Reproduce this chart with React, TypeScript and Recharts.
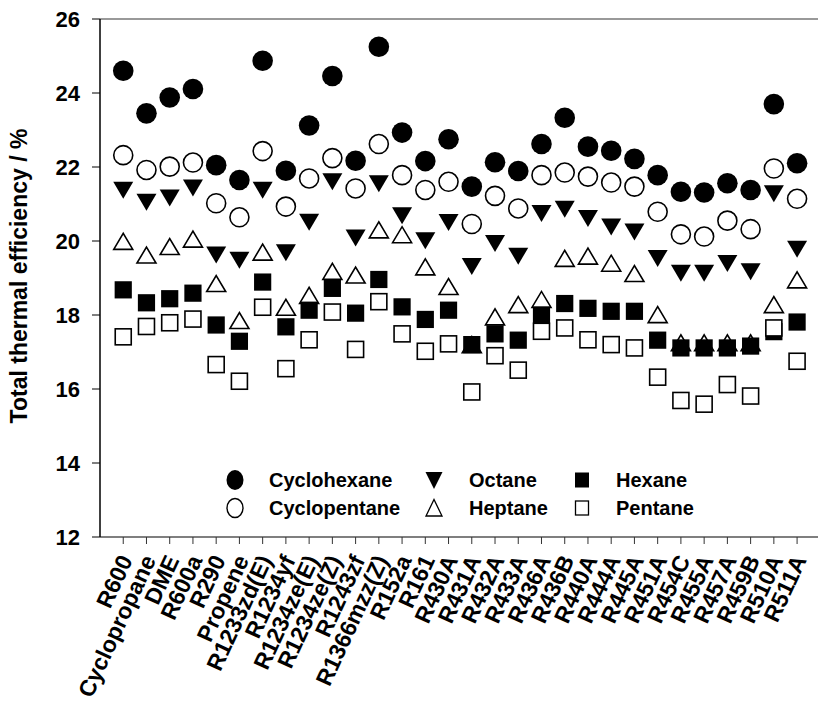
import React from "react";
import { ScatterChart, Scatter, XAxis, YAxis, ReferenceLine } from "recharts";

const categories = [
  "R600", "Cyclopropane", "DME", "R600a", "R290", "Propene", "R1233zd(E)", "R1234yf",
  "R1234ze(E)", "R1234ze(Z)", "R1243zf", "R1366mzz(Z)", "R152a", "R161", "R430A", "R431A",
  "R432A", "R433A", "R436A", "R436B", "R440A", "R444A", "R445A", "R451A", "R454C", "R455A",
  "R457A", "R459B", "R510A", "R511A",
];

const cyclohexane = [24.6, 23.45, 23.88, 24.11, 22.05, 21.65, 24.87, 21.9, 23.12, 24.46, 22.17, 25.25, 22.93, 22.16, 22.75, 21.47, 22.13, 21.89, 22.62, 23.33, 22.55, 22.44, 22.22, 21.78, 21.33, 21.31, 21.56, 21.38, 23.7, 22.1];
const cyclopentane = [22.32, 21.92, 22.01, 22.12, 21.02, 20.64, 22.43, 20.93, 21.69, 22.24, 21.42, 22.62, 21.78, 21.38, 21.6, 20.46, 21.22, 20.88, 21.78, 21.85, 21.74, 21.58, 21.47, 20.79, 20.18, 20.12, 20.55, 20.32, 21.96, 21.14];
const octane = [21.37, 21.05, 21.16, 21.43, 19.62, 19.48, 21.37, 19.68, 20.51, 21.6, 20.08, 21.55, 20.68, 20.01, 20.5, 19.31, 19.93, 19.59, 20.74, 20.86, 20.61, 20.38, 20.24, 19.53, 19.13, 19.13, 19.39, 19.17, 21.28, 19.78];
const heptane = [19.99, 19.62, 19.85, 20.05, 18.85, 17.85, 19.7, 18.21, 18.53, 19.18, 19.08, 20.3, 20.17, 19.3, 18.77, 17.2, 17.95, 18.28, 18.42, 19.53, 19.59, 19.4, 19.12, 18.01, 17.25, 17.25, 17.25, 17.25, 18.28, 18.95];
const hexane = [18.68, 18.33, 18.44, 18.59, 17.73, 17.29, 18.89, 17.68, 18.13, 18.72, 18.05, 18.96, 18.22, 17.88, 18.13, 17.2, 17.49, 17.32, 18.0, 18.31, 18.18, 18.1, 18.1, 17.32, 17.11, 17.11, 17.11, 17.16, 17.55, 17.81];
const pentane = [17.41, 17.69, 17.79, 17.89, 16.66, 16.21, 18.21, 16.55, 17.33, 18.08, 17.07, 18.36, 17.49, 17.02, 17.22, 15.92, 16.9, 16.51, 17.56, 17.65, 17.33, 17.2, 17.11, 16.32, 15.69, 15.59, 16.12, 15.81, 17.65, 16.75];

const yTicks = [12, 14, 16, 18, 20, 22, 24, 26];
const xTicks = categories.map((_, i) => i + 1);

const toPoints = (vals: number[]) => vals.map((y, i) => ({ x: i + 1, y }));

const FONT = "'Liberation Sans', Arial, sans-serif";

const filledCircle = (p: any) => <circle cx={p.cx} cy={p.cy} r={10.3} fill="#000" />;
const openCircle = (p: any) => <circle cx={p.cx} cy={p.cy} r={9.5} fill="#fff" stroke="#000" strokeWidth={1.6} />;
const downTri = (p: any) => (
  <polygon points={`${p.cx - 10},${p.cy - 8.5} ${p.cx + 10},${p.cy - 8.5} ${p.cx},${p.cy + 8.5}`} fill="#000" />
);
const upTri = (p: any) => (
  <polygon points={`${p.cx - 9.5},${p.cy + 8} ${p.cx + 9.5},${p.cy + 8} ${p.cx},${p.cy - 8}`} fill="#fff" stroke="#000" strokeWidth={1.6} />
);
const filledSquare = (p: any) => <rect x={p.cx - 8.6} y={p.cy - 8.6} width={17.2} height={17.2} fill="#000" />;
const openSquare = (p: any) => (
  <rect x={p.cx - 8} y={p.cy - 8} width={16} height={16} fill="#fff" stroke="#000" strokeWidth={1.6} />
);

const XTick = ({ x, y, payload }: any) => {
  const ax = x + 10;
  const ay = y + 14;
  return (
    <text
      x={ax}
      y={ay}
      transform={`rotate(-65, ${ax}, ${ay})`}
      textAnchor="end"
      fontFamily={FONT}
      fontWeight="bold"
      fontSize={23}
      fill="#000"
    >
      {categories[payload.value - 1]}
    </text>
  );
};

const YLabel = () => (
  <text
    x={27}
    y={276}
    transform="rotate(-90, 27, 276)"
    textAnchor="middle"
    fontFamily={FONT}
    fontWeight="bold"
    fontSize={23}
    fill="#000"
  >
    Total thermal efficiency / %
  </text>
);

const legendItems = [
  { name: "Cyclohexane", mx: 235, tx: 269, y: 480, icon: (x: number, y: number) => <ellipse cx={x} cy={y} rx={8.5} ry={10} fill="#000" /> },
  { name: "Cyclopentane", mx: 235, tx: 269, y: 508, icon: (x: number, y: number) => <ellipse cx={x} cy={y} rx={8} ry={9.5} fill="#fff" stroke="#000" strokeWidth={1.4} /> },
  { name: "Octane", mx: 434, tx: 469, y: 480, icon: (x: number, y: number) => <polygon points={`${x - 8.5},${y - 8} ${x + 8.5},${y - 8} ${x},${y + 9}`} fill="#000" /> },
  { name: "Heptane", mx: 434, tx: 469, y: 508, icon: (x: number, y: number) => <polygon points={`${x - 8},${y + 8} ${x + 8},${y + 8} ${x},${y - 8.5}`} fill="#fff" stroke="#000" strokeWidth={1.3} /> },
  { name: "Hexane", mx: 582, tx: 616, y: 480, icon: (x: number, y: number) => <rect x={x - 7} y={y - 7.5} width={14} height={15} fill="#000" /> },
  { name: "Pentane", mx: 582, tx: 616, y: 508, icon: (x: number, y: number) => <rect x={x - 6.5} y={y - 7} width={13} height={14} fill="#fff" stroke="#000" strokeWidth={1.3} /> },
];

export default function App() {
  return (
    <div style={{ position: "absolute", left: 0, top: 0, width: 818, height: 713, background: "#fff", overflow: "hidden" }}>
      <ScatterChart width={818} height={713} margin={{ top: 19, right: 0, left: 0, bottom: 0 }}>
        <XAxis
          type="number"
          dataKey="x"
          domain={[0, 30.9]}
          ticks={xTicks}
          interval={0}
          allowDataOverflow
          height={176}
          tick={<XTick />}
          tickSize={7}
          tickLine={{ stroke: "#333" }}
          axisLine={{ stroke: "#555", strokeWidth: 1.5 }}
        />
        <YAxis
          type="number"
          dataKey="y"
          domain={[12, 26]}
          ticks={yTicks}
          interval={0}
          width={100}
          tickSize={8}
          tickMargin={12}
          tickLine={{ stroke: "#000" }}
          axisLine={{ stroke: "#000", strokeWidth: 1.5 }}
          tick={{ fill: "#000", fontFamily: FONT, fontWeight: "bold", fontSize: 22 }}
          label={<YLabel />}
        />
        <ReferenceLine y={26} stroke="#777" strokeWidth={1.5} ifOverflow="extendDomain" />
        <Scatter name="Cyclohexane" data={toPoints(cyclohexane)} shape={filledCircle} isAnimationActive={false} />
        <Scatter name="Cyclopentane" data={toPoints(cyclopentane)} shape={openCircle} isAnimationActive={false} />
        <Scatter name="Octane" data={toPoints(octane)} shape={downTri} isAnimationActive={false} />
        <Scatter name="Heptane" data={toPoints(heptane)} shape={upTri} isAnimationActive={false} />
        <Scatter name="Hexane" data={toPoints(hexane)} shape={filledSquare} isAnimationActive={false} />
        <Scatter name="Pentane" data={toPoints(pentane)} shape={openSquare} isAnimationActive={false} />
      </ScatterChart>
      <svg width={818} height={713} style={{ position: "absolute", left: 0, top: 0, pointerEvents: "none" }}>
        {legendItems.map((it) => (
          <g key={it.name}>
            {it.icon(it.mx, it.y)}
            <text x={it.tx} y={it.y} dominantBaseline="central" fontFamily={FONT} fontWeight="bold" fontSize={20} fill="#000">
              {it.name}
            </text>
          </g>
        ))}
      </svg>
    </div>
  );
}
